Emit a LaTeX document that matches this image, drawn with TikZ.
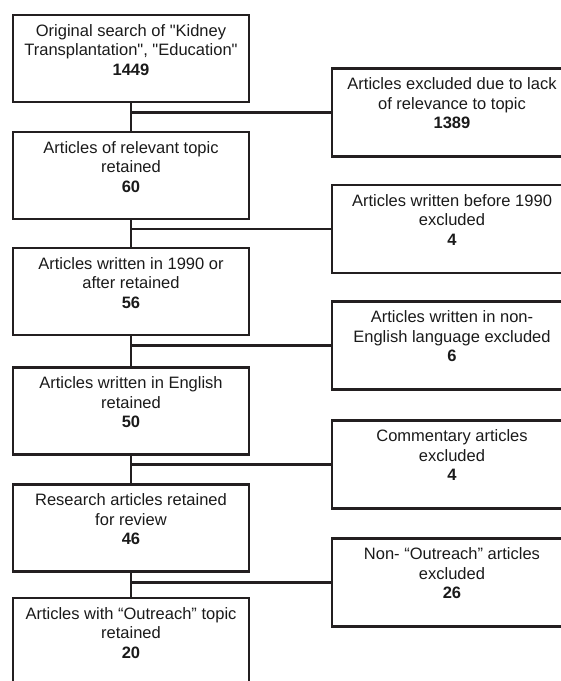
\documentclass[tikz,border=0pt]{standalone}
\usepackage{fontspec}
\setmainfont{Liberation Sans}[Ligatures=TeXOff]
\usepackage{tikz}
\definecolor{lineDark}{HTML}{231F20}
\definecolor{textDark}{HTML}{1A1A1A}

\begin{document}
\begin{tikzpicture}[x=1pt,y=-1pt,
  keepBox/.style={draw=lineDark,line width=2.8pt,minimum width=236pt,minimum height=87pt,inner sep=0pt},
  dropBox/.style={keepBox,minimum width=240pt,minimum height=88pt},
  boxText/.style={text=textDark,align=center,anchor=north,inner sep=0pt,yshift=-10.5pt,
    font=\fontsize{16.5}{19.5}\selectfont},
  link/.style={draw=lineDark,line width=2.6pt}]
\useasboundingbox (0,0) rectangle (561,681);
\clip (0,0) rectangle (561,681);
% retained articles (left column)
\node[keepBox] (orig) at (131,58.5) {};
\node[keepBox] (rel)  at (131,175.5) {};
\node[keepBox] (year) at (131,291.5) {};
\node[keepBox] (eng)  at (131,411) {};
\node[keepBox] (res)  at (131,528) {};
\node[keepBox] (outr) at (131,641.5) {};
% excluded articles (right column)
\node[dropBox] (xrel)  at (452,112.5) {};
\node[dropBox] (xyear) at (452,229) {};
\node[dropBox] (xeng)  at (452,345.5) {};
\node[dropBox] (xcom)  at (452,464.5) {};
\node[dropBox] (xoutr) at (452,582.5) {};
% texts
\node[boxText] (origT) at (orig.north) {Original search of "Kidney\\Transplantation", "Education"\\\textbf{1449}};
\node[boxText] (relT)  at (rel.north)  {Articles of relevant topic\\retained\\\textbf{60}};
\node[boxText] (yearT) at (year.north) {Articles written in 1990 or\\after retained\\\textbf{56}};
\node[boxText] (engT)  at (eng.north)  {Articles written in English\\retained\\\textbf{50}};
\node[boxText] (resT)  at (res.north)  {Research articles retained\\for review\\\textbf{46}};
\node[boxText] (outrT) at (outr.north) {Articles with “Outreach” topic\\retained\\\textbf{20}};
\node[boxText] (xrelT)  at (xrel.north)  {Articles excluded due to lack\\of relevance to topic\\\textbf{1389}};
\node[boxText] (xyearT) at (xyear.north) {Articles written before 1990\\excluded\\\textbf{4}};
\node[boxText] (xengT)  at (xeng.north)  {Articles written in non-\\English language excluded\\\textbf{6}};
\node[boxText] (xcomT)  at (xcom.north)  {Commentary articles\\excluded\\\textbf{4}};
\node[boxText] (xoutrT) at (xoutr.north) {Non- “Outreach” articles\\excluded\\\textbf{26}};
% connectors
\draw[link] (orig) -- (rel);
\draw[link] (rel) -- (year);
\draw[link] (year) -- (eng);
\draw[link] (eng) -- (res);
\draw[link] (res) -- (outr);
\draw[link] (orig.south |- xrel.west) -- (xrel.west);
\draw[link] (rel.south |- xyear.west) -- (xyear.west);
\draw[link] (year.south |- xeng.west) -- (xeng.west);
\draw[link] (eng.south |- xcom.west) -- (xcom.west);
\draw[link] (res.south |- xoutr.west) -- (xoutr.west);
\end{tikzpicture}
\end{document}
